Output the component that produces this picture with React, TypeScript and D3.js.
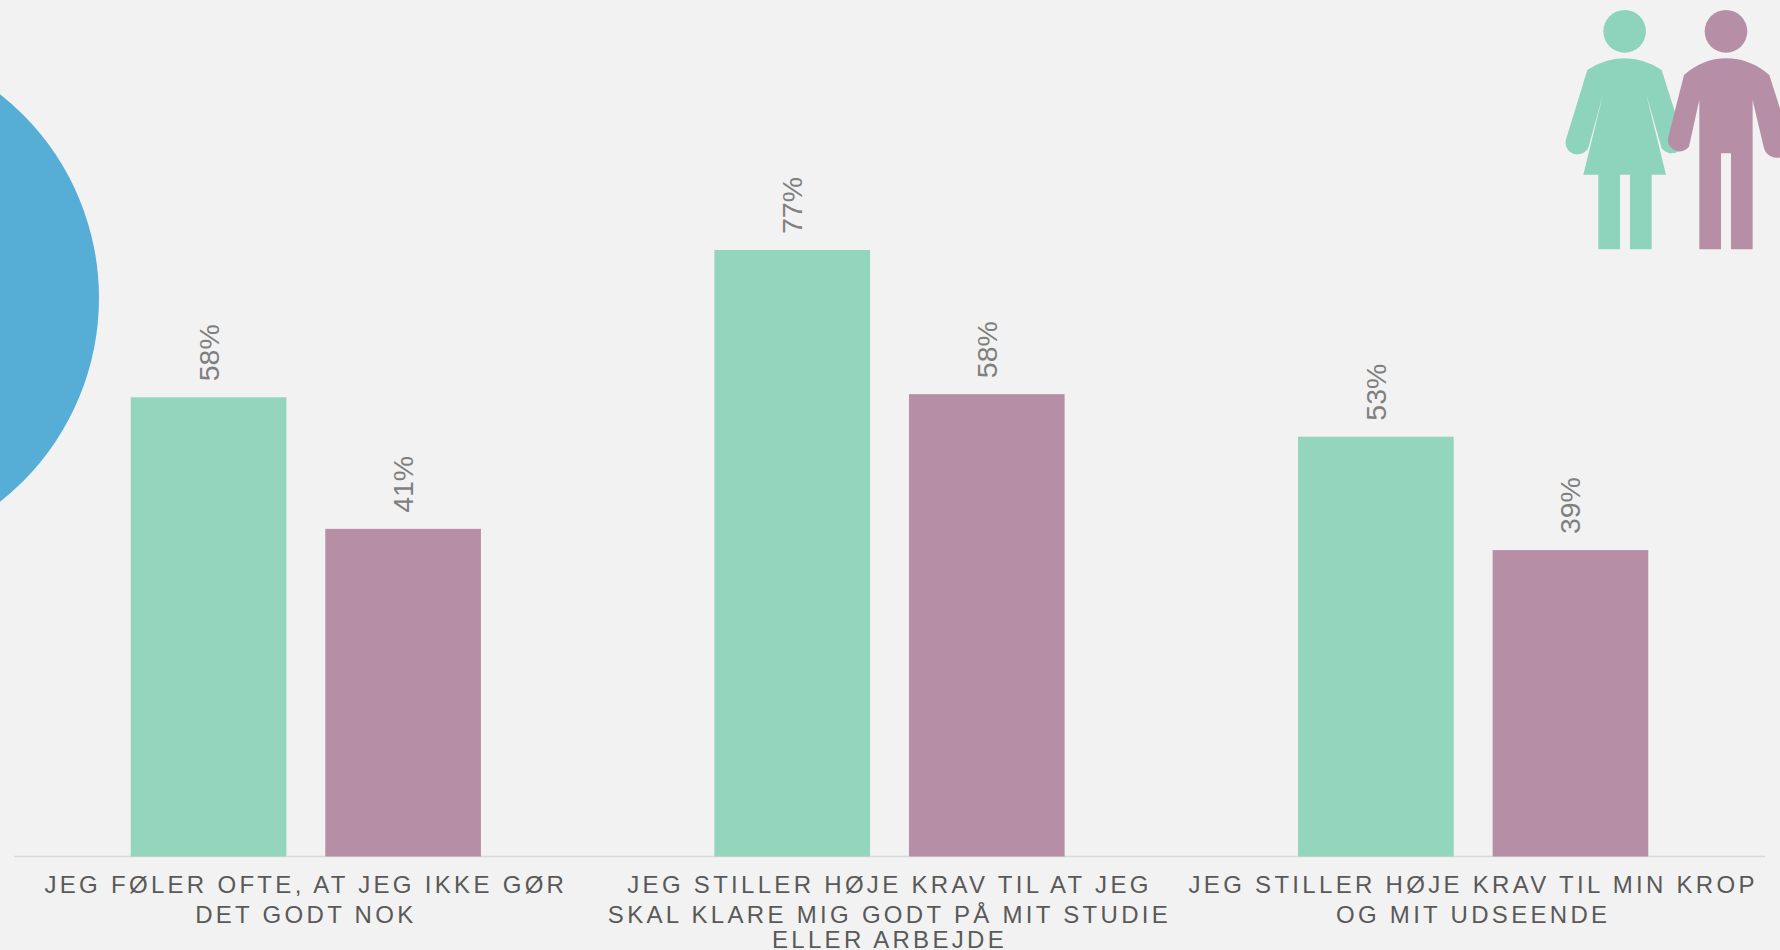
import React from "react";
import * as d3 from "d3";

const categories = ["q1", "q2", "q3"];
const categoryLines = [
  ["JEG FØLER OFTE, AT JEG IKKE GØR", "DET GODT NOK"],
  ["JEG STILLER HØJE KRAV TIL AT JEG", "SKAL KLARE MIG GODT PÅ MIT STUDIE", "ELLER ARBEJDE"],
  ["JEG STILLER HØJE KRAV TIL MIN KROP", "OG MIT UDSEENDE"],
];
const seriesNames = ["Kvinder", "Mænd"];
const womenValues = [58.3, 77, 53.3];
const menValues = [41.6, 58.7, 38.9];
const womenLabels = ["58%", "77%", "53%"];
const menLabels = ["41%", "58%", "39%"];
const lineBaselines = [893, 923, 948];

const W = 1780, H = 950;
const GREEN = "#94D5BE", PURPLE = "#B68FA7", GREEN_ICON = "#8ED4BC", BLUE = "#56AED6";
const FONT = "'Liberation Sans', Arial, sans-serif";

const x0 = d3.scaleBand<string>().domain(categories).range([14, 1765]);
const x1 = d3.scaleBand<string>().domain(seriesNames).range([0, x0.bandwidth()]).paddingInner(0.2).paddingOuter(0.6);
const y = d3.scaleLinear().domain([0, 77]).range([856.5, 250]);

const womanPath = "M142 210Q195 175 254 175Q312 175 365 210L425 400A35 35 0 0 1 365 445L318 280L378 524L335 524L335 748L270 748L270 524L240 524L240 748L175 748L175 524L130 524L190 280L146 440A35 35 0 0 1 79 415Z";
const manPath = "M432 225Q490 175 558 175Q630 175 688 225L750 420A35 35 0 0 1 672 445L638 300L638 748L573 748L573 460L543 460L543 748L478 748L478 300L447 440A35 35 0 0 1 384 415Z";

export default function App() {
  const groups = [
    { name: seriesNames[0], values: womenValues, labels: womenLabels, fill: GREEN },
    { name: seriesNames[1], values: menValues, labels: menLabels, fill: PURPLE },
  ];
  return (
    <svg width={W} height={H} viewBox={`0 0 ${W} ${H}`}
      style={{ position: "fixed", left: 0, top: 0, display: "block", background: "#F2F2F2" }}>
      <rect width={W} height={H} fill="#F2F2F2" />
      <circle cx={-160} cy={298} r={259} fill={BLUE} />
      <line x1={x0.range()[0]} x2={x0.range()[1]} y1={y(0)} y2={y(0)} stroke="#D9D9D9" strokeWidth={1.5} />
      {categories.map((c, i) => (
        <g key={c} transform={`translate(${x0(c)},0)`}>
          {groups.map((g) => {
            const bx = x1(g.name)!;
            const top = y(g.values[i]);
            const cx = bx + x1.bandwidth() / 2;
            return (
              <g key={g.name}>
                <rect x={bx} y={top} width={x1.bandwidth()} height={y(0) - top} fill={g.fill} />
                <text transform={`translate(${cx + 10},${top - 16}) rotate(-90)`} fontFamily={FONT} fontSize={28.5}
                  fill="#7F7F7F">{g.labels[i]}</text>
              </g>
            );
          })}
          {categoryLines[i].map((line, k) => (
            <text key={k} x={x0.bandwidth() / 2} y={lineBaselines[k]} textAnchor="middle" fontFamily={FONT}
              fontSize={24} letterSpacing={3.3} fill="#595959">{line}</text>
          ))}
        </g>
      ))}
      <g transform="translate(1540,0) scale(0.3333)">
        <circle cx={254} cy={94} r={64} fill={GREEN_ICON} />
        <path d={womanPath} fill={GREEN_ICON} />
        <circle cx={558} cy={94} r={64} fill={PURPLE} />
        <path d={manPath} fill={PURPLE} />
      </g>
    </svg>
  );
}
